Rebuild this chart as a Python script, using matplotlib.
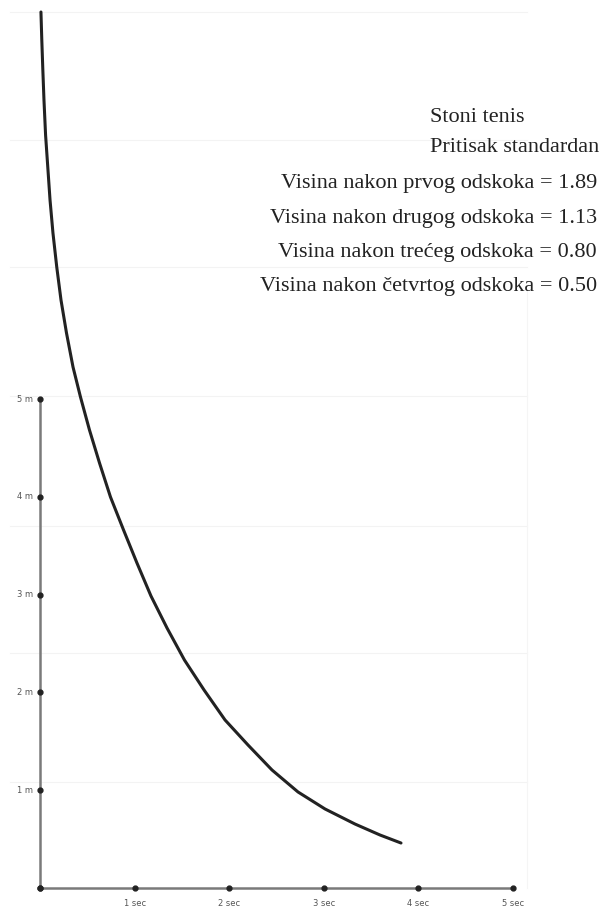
import numpy as np
import matplotlib.pyplot as plt

# bounce curve (time in sec, height in m)
t_sec = [0.010, 0.019, 0.030, 0.042, 0.059, 0.079, 0.106, 0.137, 0.177, 0.222,
         0.280, 0.349, 0.428, 0.523, 0.629, 0.745, 0.883, 1.025, 1.173, 1.343,
         1.527, 1.734, 1.956, 2.199, 2.452, 2.727, 3.013, 3.330, 3.594, 3.816]
h_m = [8.957, 8.671, 8.364, 8.057, 7.699, 7.417, 7.035, 6.697, 6.350, 6.012,
       5.675, 5.327, 5.020, 4.683, 4.346, 3.998, 3.661, 3.323, 2.986, 2.658,
       2.331, 2.025, 1.718, 1.462, 1.207, 0.982, 0.808, 0.654, 0.542, 0.460]

x_ticks = [0, 1, 2, 3, 4, 5]
x_labels = ['', '1 sec', '2 sec', '3 sec', '4 sec', '5 sec']
y_ticks = [0, 1, 2, 3, 4, 5]
y_labels = ['', '1 m', '2 m', '3 m', '4 m', '5 m']

title_lines = ['Stoni tenis', 'Pritisak standardan']
bounce_lines = ['Visina nakon prvog odskoka = 1.89',
                'Visina nakon drugog odskoka = 1.13',
                'Visina nakon trećeg odskoka = 0.80',
                'Visina nakon četvrtog odskoka = 0.50']

fig = plt.figure(figsize=(6, 9.1), dpi=100)
ax = fig.add_axes([0, 0, 1, 1])
# pixel scale: x=0 at 40px, 94.6 px/sec ; y=0 at 888px, 97.8 px/m
px_x, px_y = 94.6, 97.8
ax.set_xlim(-40 / px_x, 560 / px_x)
ax.set_ylim(-22 / px_y, 888 / px_y)
ax.axis('off')

# faint background grid
for yp in [12, 140, 267, 396, 526, 653, 782]:
    ax.axhline((888 - yp) / px_y, xmin=10 / 600, xmax=527 / 600, color='#f3f3f3', lw=0.8, zorder=0)
ax.axvline(487 / px_x, ymin=22 / 910, ymax=620 / 910, color='#f5f5f5', lw=0.8, zorder=0)

# axes lines
ax.plot([0, 5], [0, 0], color='#7a7a7a', lw=1.8, zorder=1)
ax.plot([0, 0], [0, 5], color='#7a7a7a', lw=1.8, zorder=1)
ax.plot(x_ticks, [0] * len(x_ticks), 'o', color='#222222', ms=3.5, zorder=2)
ax.plot([0] * len(y_ticks), y_ticks, 'o', color='#222222', ms=3.5, zorder=2)

for x, lab in zip(x_ticks, x_labels):
    ax.text(x, -16 / px_y, lab, ha='center', va='center', fontsize=6, color='#555555')
for y, lab in zip(y_ticks, y_labels):
    ax.text(-7 / px_x, y, lab, ha='right', va='center', fontsize=6, color='#555555')

# the curve
ax.plot(t_sec, h_m, color='#222222', lw=2.2, solid_capstyle='round', zorder=3)

# text block
serif = 'Liberation Serif'
title_base = [122, 152]
bounce_base = [188, 222.5, 257, 291.5]
for yp, s in zip(title_base, title_lines):
    fig.text(430 / 600, 1 - yp / 910, s, ha='left', va='baseline',
             fontsize=16, family=serif, color='#222222')
for yp, s in zip(bounce_base, bounce_lines):
    fig.text(597 / 600, 1 - yp / 910, s, ha='right', va='baseline',
             fontsize=16, family=serif, color='#222222')

fig.savefig('out.png', dpi=100)
